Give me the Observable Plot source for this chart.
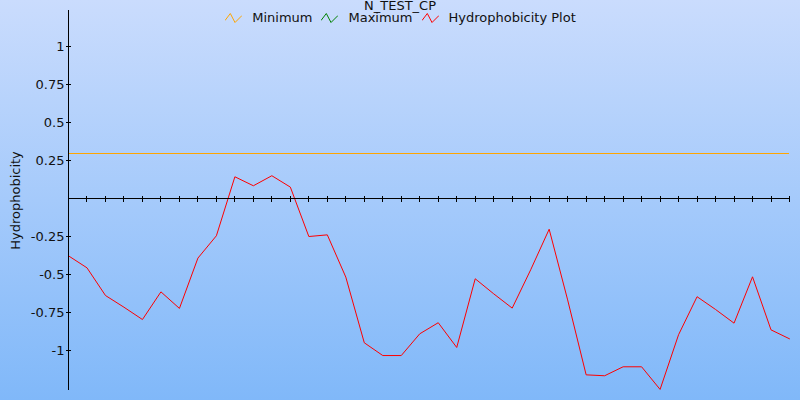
<!DOCTYPE html>
<html><head><meta charset="utf-8">
<script src="https://cdn.jsdelivr.net/npm/d3@7"></script>
<script src="https://cdn.jsdelivr.net/npm/@observablehq/plot@0.6"></script>
<style>
body{margin:0}
#wrap{position:relative;width:800px;height:400px;background:linear-gradient(#cadcfd,#80b8f9);font-family:"DejaVu Sans",sans-serif;overflow:hidden;color:#111}
#title{position:absolute;left:0;width:800px;top:-2px;text-align:center;font-size:13px;line-height:15px}
#legend{position:absolute;left:0;width:800px;top:10px;display:flex;justify-content:center;align-items:center;font-size:13px;line-height:15px}
#legend .item{display:flex;align-items:center;margin:0 4px 0 5px}
#legend svg{margin-right:10px}
#chart{position:absolute;left:0;top:0}
</style>
</head><body>
<div id="wrap">
<div id="chart"></div>
<div id="title"></div>
<div id="legend"></div>
</div>
<script>
const title = "N_TEST_CP";
const yLabel = "Hydrophobicity";
const seriesNames = ["Minimum", "Maximum", "Hydrophobicity Plot"];
const seriesColors = ["#ffa500", "#008000", "#ff0000"];
const minimum = [0.3];
const hydrophobicity = [
  -0.374, -0.453, -0.635, -0.712, -0.793, -0.611, -0.720, -0.389, -0.242, 0.146,
  0.087, 0.153, 0.078, -0.247, -0.236, -0.514, -0.946, -1.030, -1.030, -0.887,
  -0.814, -0.977, -0.525, -0.624, -0.718, -0.466, -0.199, -0.664, -1.157, -1.163,
  -1.104, -1.104, -1.253, -0.893, -0.643, -0.727, -0.817, -0.512, -0.861, -0.920
];
const positions = hydrophobicity.map((_, i) => i);
const yTicks = [1, 0.75, 0.5, 0.25, -0.25, -0.5, -0.75, -1];

document.getElementById("title").textContent = title;
const legend = document.getElementById("legend");
seriesNames.forEach((name, i) => {
  const item = document.createElement("div");
  item.className = "item";
  item.innerHTML = `<svg width="17" height="10" viewBox="0 0 17 10"><polyline points="0,7.5 5.3,0.5 10,9.5 17,2.5" fill="none" stroke="${seriesColors[i]}" stroke-width="1"/></svg><span></span>`;
  item.querySelector("span").textContent = name;
  legend.appendChild(item);
});

const hTick = {draw(c){ c.moveTo(-2.5, 0); c.lineTo(2.5, 0); }};
const vTick = {draw(c){ c.moveTo(0, -3); c.lineTo(0, 3); }};

const chart = Plot.plot({
  width: 800,
  height: 400,
  marginLeft: 68,
  marginRight: 11,
  marginTop: 10,
  marginBottom: 10,
  style: {background: "transparent", fontFamily: "DejaVu Sans", fontSize: "13px", color: "#111"},
  x: {domain: [0, positions.length - 1], axis: null},
  y: {domain: [-1.26, 1.24], label: yLabel},
  marks: [
    Plot.axisY({ticks: yTicks, tickSize: 0, tickPadding: 4, tickFormat: d => String(d), fontSize: 13, label: yLabel, labelAnchor: "center", labelOffset: 58, labelArrow: "none"}),
    Plot.ruleY(minimum, {stroke: seriesColors[0], strokeWidth: 1, shapeRendering: "crispEdges"}),
    Plot.line(hydrophobicity, {x: (d, i) => positions[i], y: d => d, stroke: seriesColors[2], strokeWidth: 1}),
    Plot.ruleX([0], {stroke: "black", strokeWidth: 1, shapeRendering: "crispEdges"}),
    Plot.ruleY([0], {stroke: "black", strokeWidth: 1, shapeRendering: "crispEdges"}),
    Plot.dot(yTicks, {x: 0, y: d => d, symbol: hTick, stroke: "black", strokeWidth: 1, fill: "none", shapeRendering: "crispEdges"}),
    Plot.dot(positions, {x: d => d, y: 0, symbol: vTick, stroke: "black", strokeWidth: 1, fill: "none", shapeRendering: "crispEdges"})
  ]
});
document.getElementById("chart").appendChild(chart);
</script>
</body></html>
